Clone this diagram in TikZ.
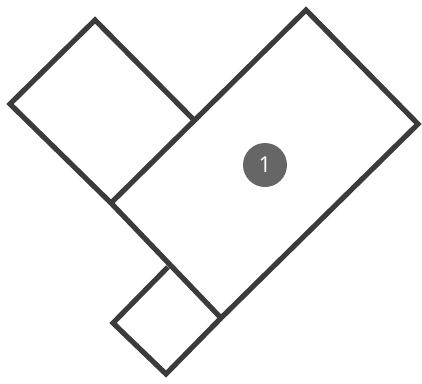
\documentclass[tikz,border=0pt]{standalone}
\usepackage{fontspec}
\setsansfont{Open Sans}
\begin{document}
\begin{tikzpicture}[x=1pt,y=-1pt,
  outline/.style={draw=black!77,line width=5.2pt,line join=miter},
  badge/.style={circle,fill=black!60,minimum size=44pt,inner sep=0pt,text=white,font=\sffamily\fontsize{22}{22}\selectfont}]
\useasboundingbox (0,0) rectangle (422,383);
% big rectangle
\coordinate (bt) at (306,10);
\coordinate (br) at (418,124);
\coordinate (bb) at (221,318);
\coordinate (bl) at (111,203);
% top-left rectangle
\coordinate (st) at (95,20);
\coordinate (sl) at (10,104);
\coordinate (sr) at (193,119);
% bottom square
\coordinate (qt) at (168,267);
\coordinate (ql) at (113,323);
\coordinate (qb) at (166,374);
\draw[outline] (bt) -- (br) -- (bb) -- (bl) -- cycle;
\draw[outline] (sr) -- (st) -- (sl) -- (bl);
\draw[outline] (qt) -- (ql) -- (qb) -- (bb);
\node[badge] (n1) at (265,165) {1};
\end{tikzpicture}
\end{document}
